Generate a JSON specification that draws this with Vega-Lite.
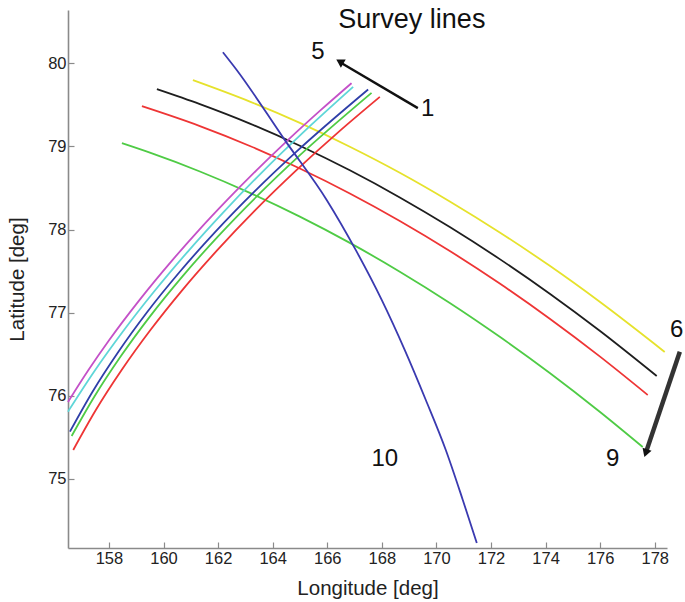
{
  "$schema": "https://vega.github.io/schema/vega-lite/v6.json",
  "width": 599,
  "height": 538,
  "autosize": {"type": "none"},
  "padding": {"left": 68, "top": 10, "right": 18, "bottom": 54},
  "background": "white",
  "config": {
    "view": {"stroke": null},
    "font": "Liberation Sans",
    "axis": {
      "grid": false,
      "domainColor": "#8a8a8a",
      "domainWidth": 1.6,
      "tickColor": "#8a8a8a",
      "tickWidth": 1.2,
      "tickSize": -6,
      "labelFontSize": 16.5,
      "labelColor": "#222222",
      "labelFont": "Liberation Sans",
      "titleFontSize": 20.5,
      "titleFontWeight": "normal",
      "titleColor": "#222222",
      "titleFont": "Liberation Sans",
      "format": "d"
    }
  },
  "datasets": {
    "lines": [
      {"line": "L6", "i": 0, "lon": 161.077, "lat": 79.796},
      {"line": "L6", "i": 1, "lon": 163.165, "lat": 79.538},
      {"line": "L6", "i": 2, "lon": 164.996, "lat": 79.282},
      {"line": "L6", "i": 3, "lon": 166.828, "lat": 78.996},
      {"line": "L6", "i": 4, "lon": 168.659, "lat": 78.683},
      {"line": "L6", "i": 5, "lon": 170.491, "lat": 78.338},
      {"line": "L6", "i": 6, "lon": 172.322, "lat": 77.965},
      {"line": "L6", "i": 7, "lon": 174.154, "lat": 77.563},
      {"line": "L6", "i": 8, "lon": 175.985, "lat": 77.131},
      {"line": "L6", "i": 9, "lon": 178.366, "lat": 76.528},

      {"line": "L7", "i": 0, "lon": 159.758, "lat": 79.688},
      {"line": "L7", "i": 1, "lon": 161.333, "lat": 79.508},
      {"line": "L7", "i": 2, "lon": 163.165, "lat": 79.274},
      {"line": "L7", "i": 3, "lon": 164.996, "lat": 79.008},
      {"line": "L7", "i": 4, "lon": 166.828, "lat": 78.712},
      {"line": "L7", "i": 5, "lon": 168.659, "lat": 78.386},
      {"line": "L7", "i": 6, "lon": 170.491, "lat": 78.030},
      {"line": "L7", "i": 7, "lon": 172.322, "lat": 77.644},
      {"line": "L7", "i": 8, "lon": 174.154, "lat": 77.228},
      {"line": "L7", "i": 9, "lon": 175.985, "lat": 76.782},
      {"line": "L7", "i": 10, "lon": 178.073, "lat": 76.238},

      {"line": "L8", "i": 0, "lon": 159.209, "lat": 79.483},
      {"line": "L8", "i": 1, "lon": 161.333, "lat": 79.244},
      {"line": "L8", "i": 2, "lon": 163.165, "lat": 79.005},
      {"line": "L8", "i": 3, "lon": 164.996, "lat": 78.734},
      {"line": "L8", "i": 4, "lon": 166.828, "lat": 78.434},
      {"line": "L8", "i": 5, "lon": 168.659, "lat": 78.103},
      {"line": "L8", "i": 6, "lon": 170.491, "lat": 77.742},
      {"line": "L8", "i": 7, "lon": 172.322, "lat": 77.350},
      {"line": "L8", "i": 8, "lon": 174.154, "lat": 76.927},
      {"line": "L8", "i": 9, "lon": 175.985, "lat": 76.474},
      {"line": "L8", "i": 10, "lon": 177.744, "lat": 76.010},

      {"line": "L9", "i": 0, "lon": 158.476, "lat": 79.038},
      {"line": "L9", "i": 1, "lon": 159.502, "lat": 78.924},
      {"line": "L9", "i": 2, "lon": 161.333, "lat": 78.698},
      {"line": "L9", "i": 3, "lon": 163.165, "lat": 78.441},
      {"line": "L9", "i": 4, "lon": 164.996, "lat": 78.155},
      {"line": "L9", "i": 5, "lon": 166.828, "lat": 77.839},
      {"line": "L9", "i": 6, "lon": 168.659, "lat": 77.493},
      {"line": "L9", "i": 7, "lon": 170.491, "lat": 77.117},
      {"line": "L9", "i": 8, "lon": 172.322, "lat": 76.710},
      {"line": "L9", "i": 9, "lon": 174.154, "lat": 76.275},
      {"line": "L9", "i": 10, "lon": 175.985, "lat": 75.809},
      {"line": "L9", "i": 11, "lon": 177.560, "lat": 75.385},

      {"line": "L5", "i": 0, "lon": 156.498, "lat": 75.925},
      {"line": "L5", "i": 1, "lon": 157.249, "lat": 76.310},
      {"line": "L5", "i": 2, "lon": 158.011, "lat": 76.671},
      {"line": "L5", "i": 3, "lon": 159.117, "lat": 77.151},
      {"line": "L5", "i": 4, "lon": 160.326, "lat": 77.632},
      {"line": "L5", "i": 5, "lon": 161.297, "lat": 77.993},
      {"line": "L5", "i": 6, "lon": 162.326, "lat": 78.353},
      {"line": "L5", "i": 7, "lon": 163.414, "lat": 78.714},
      {"line": "L5", "i": 8, "lon": 164.557, "lat": 79.075},
      {"line": "L5", "i": 9, "lon": 165.758, "lat": 79.435},
      {"line": "L5", "i": 10, "lon": 166.890, "lat": 79.760},

      {"line": "L4", "i": 0, "lon": 156.498, "lat": 75.809},
      {"line": "L4", "i": 1, "lon": 157.454, "lat": 76.290},
      {"line": "L4", "i": 2, "lon": 158.505, "lat": 76.770},
      {"line": "L4", "i": 3, "lon": 159.648, "lat": 77.251},
      {"line": "L4", "i": 4, "lon": 160.883, "lat": 77.732},
      {"line": "L4", "i": 5, "lon": 162.209, "lat": 78.213},
      {"line": "L4", "i": 6, "lon": 163.626, "lat": 78.694},
      {"line": "L4", "i": 7, "lon": 165.139, "lat": 79.174},
      {"line": "L4", "i": 8, "lon": 166.949, "lat": 79.715},

      {"line": "L3", "i": 0, "lon": 156.571, "lat": 75.569},
      {"line": "L3", "i": 1, "lon": 157.399, "lat": 76.049},
      {"line": "L3", "i": 2, "lon": 158.348, "lat": 76.530},
      {"line": "L3", "i": 3, "lon": 159.410, "lat": 77.011},
      {"line": "L3", "i": 4, "lon": 160.597, "lat": 77.492},
      {"line": "L3", "i": 5, "lon": 161.897, "lat": 77.972},
      {"line": "L3", "i": 6, "lon": 163.319, "lat": 78.453},
      {"line": "L3", "i": 7, "lon": 164.861, "lat": 78.934},
      {"line": "L3", "i": 8, "lon": 167.498, "lat": 79.684},

      {"line": "L2", "i": 0, "lon": 156.634, "lat": 75.517},
      {"line": "L2", "i": 1, "lon": 157.480, "lat": 75.998},
      {"line": "L2", "i": 2, "lon": 158.440, "lat": 76.478},
      {"line": "L2", "i": 3, "lon": 159.513, "lat": 76.959},
      {"line": "L2", "i": 4, "lon": 160.703, "lat": 77.440},
      {"line": "L2", "i": 5, "lon": 162.007, "lat": 77.921},
      {"line": "L2", "i": 6, "lon": 163.425, "lat": 78.401},
      {"line": "L2", "i": 7, "lon": 164.960, "lat": 78.882},
      {"line": "L2", "i": 8, "lon": 167.623, "lat": 79.643},

      {"line": "L1", "i": 0, "lon": 156.692, "lat": 75.349},
      {"line": "L1", "i": 1, "lon": 157.520, "lat": 75.829},
      {"line": "L1", "i": 2, "lon": 158.465, "lat": 76.310},
      {"line": "L1", "i": 3, "lon": 159.520, "lat": 76.791},
      {"line": "L1", "i": 4, "lon": 160.689, "lat": 77.272},
      {"line": "L1", "i": 5, "lon": 161.971, "lat": 77.752},
      {"line": "L1", "i": 6, "lon": 163.363, "lat": 78.233},
      {"line": "L1", "i": 7, "lon": 164.872, "lat": 78.714},
      {"line": "L1", "i": 8, "lon": 166.491, "lat": 79.195},
      {"line": "L1", "i": 9, "lon": 167.927, "lat": 79.595},

      {"line": "L10", "i": 0, "lon": 162.176, "lat": 80.132},
      {"line": "L10", "i": 1, "lon": 162.689, "lat": 79.916},
      {"line": "L10", "i": 2, "lon": 164.447, "lat": 79.075},
      {"line": "L10", "i": 3, "lon": 165.985, "lat": 78.353},
      {"line": "L10", "i": 4, "lon": 167.048, "lat": 77.752},
      {"line": "L10", "i": 5, "lon": 168.000, "lat": 77.151},
      {"line": "L10", "i": 6, "lon": 168.842, "lat": 76.550},
      {"line": "L10", "i": 7, "lon": 169.612, "lat": 75.950},
      {"line": "L10", "i": 8, "lon": 170.344, "lat": 75.349},
      {"line": "L10", "i": 9, "lon": 170.967, "lat": 74.748},
      {"line": "L10", "i": 10, "lon": 171.480, "lat": 74.231}
    ],
    "arrows": [
      {"arrow": "a15", "lon": 169.32, "lat": 79.46, "lon2": 166.53, "lat2": 80.00, "hlon": 166.46, "hlat": 80.02},
      {"arrow": "a69", "lon": 178.92, "lat": 76.53, "lon2": 177.71, "lat2": 75.35, "hlon": 177.67, "hlat": 75.31}
    ],
    "labels": [
      {"kind": "title", "text": "Survey lines", "lon": 169.10, "lat": 80.52},
      {"kind": "num", "text": "5", "lon": 165.66, "lat": 80.13},
      {"kind": "num", "text": "1", "lon": 169.68, "lat": 79.45},
      {"kind": "num", "text": "6", "lon": 178.80, "lat": 76.79},
      {"kind": "num", "text": "9", "lon": 176.46, "lat": 75.24},
      {"kind": "num", "text": "10", "lon": 168.11, "lat": 75.24}
    ]
  },
  "layer": [
    {
      "data": {"name": "lines"},
      "mark": {"type": "line", "strokeWidth": 1.8, "interpolate": "monotone"},
      "encoding": {
        "x": {
          "field": "lon", "type": "quantitative",
          "scale": {"domain": [156.5, 178.45], "nice": false, "zero": false},
          "axis": {"values": [158, 160, 162, 164, 166, 168, 170, 172, 174, 176, 178], "title": "Longitude [deg]", "labelPadding": 8, "titlePadding": 12}
        },
        "y": {
          "field": "lat", "type": "quantitative",
          "scale": {"domain": [74.17, 80.64], "nice": false, "zero": false},
          "axis": {"values": [75, 76, 77, 78, 79, 80], "title": "Latitude [deg]", "labelPadding": 8, "titlePadding": 20}
        },
        "color": {
          "field": "line", "type": "nominal",
          "scale": {
            "domain": ["L1", "L2", "L3", "L4", "L5", "L6", "L7", "L8", "L9", "L10"],
            "range": ["#ee3535", "#4fcb45", "#2f3fa8", "#5fd6d8", "#c451c8", "#e6e22c", "#1e1e1e", "#ee3535", "#4fcb45", "#3a3ab0"]
          },
          "legend": null
        },
        "detail": {"field": "line"},
        "order": {"field": "i", "type": "quantitative"}
      }
    },
    {
      "data": {"name": "arrows"},
      "transform": [{"filter": "datum.arrow == 'a15'"}],
      "mark": {"type": "rule", "strokeWidth": 2.4, "color": "#111111"},
      "encoding": {
        "x": {"field": "lon", "type": "quantitative"},
        "y": {"field": "lat", "type": "quantitative"},
        "x2": {"field": "lon2"},
        "y2": {"field": "lat2"}
      }
    },
    {
      "data": {"name": "arrows"},
      "transform": [{"filter": "datum.arrow == 'a69'"}],
      "mark": {"type": "rule", "strokeWidth": 4.5, "color": "#333333"},
      "encoding": {
        "x": {"field": "lon", "type": "quantitative"},
        "y": {"field": "lat", "type": "quantitative"},
        "x2": {"field": "lon2"},
        "y2": {"field": "lat2"}
      }
    },
    {
      "data": {"name": "arrows"},
      "transform": [{"filter": "datum.arrow == 'a15'"}],
      "mark": {"type": "point", "shape": "triangle-up", "filled": true, "color": "#111111", "size": 90, "angle": 301, "opacity": 1},
      "encoding": {
        "x": {"field": "hlon", "type": "quantitative"},
        "y": {"field": "hlat", "type": "quantitative"}
      }
    },
    {
      "data": {"name": "arrows"},
      "transform": [{"filter": "datum.arrow == 'a69'"}],
      "mark": {"type": "point", "shape": "triangle-up", "filled": true, "color": "#111111", "size": 90, "angle": 199, "opacity": 1},
      "encoding": {
        "x": {"field": "hlon", "type": "quantitative"},
        "y": {"field": "hlat", "type": "quantitative"}
      }
    },
    {
      "data": {"name": "labels"},
      "transform": [{"filter": "datum.kind == 'title'"}],
      "mark": {"type": "text", "fontSize": 27, "font": "Liberation Sans", "color": "#111111", "align": "center", "baseline": "middle"},
      "encoding": {
        "x": {"field": "lon", "type": "quantitative"},
        "y": {"field": "lat", "type": "quantitative"},
        "text": {"field": "text"}
      }
    },
    {
      "data": {"name": "labels"},
      "transform": [{"filter": "datum.kind == 'num'"}],
      "mark": {"type": "text", "fontSize": 24, "font": "Liberation Sans", "color": "#111111", "align": "center", "baseline": "middle"},
      "encoding": {
        "x": {"field": "lon", "type": "quantitative"},
        "y": {"field": "lat", "type": "quantitative"},
        "text": {"field": "text"}
      }
    }
  ]
}
